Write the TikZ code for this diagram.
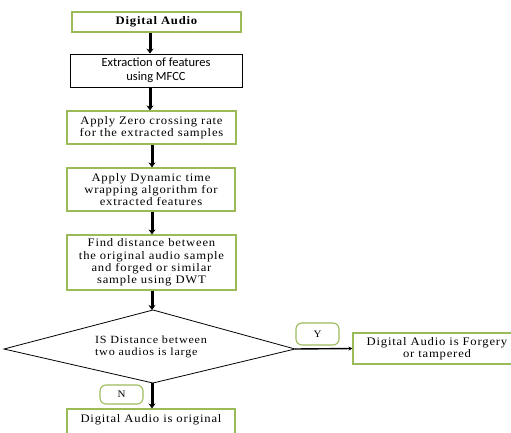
\documentclass[tikz,border=0pt]{standalone}
\usepackage{fontspec}
\setmainfont[LetterSpace=7,FakeStretch=1.1]{Liberation Serif}
\newfontfamily\calib{Carlito}
\usetikzlibrary{arrows.meta,calc}
\definecolor{ogreen}{HTML}{9BBB59}
\tikzset{
  gbox/.style={draw=ogreen,line width=1.1pt,fill=white,inner sep=0pt,align=center,font=\fontsize{11.5}{12.3}\selectfont},
  kbox/.style={draw=black,line width=0.8pt,fill=white,inner sep=0pt,align=center,font=\calib\fontsize{12.5}{14}\selectfont},
  lbl/.style={draw=ogreen,line width=1.1pt,rounded corners=6pt,inner sep=0pt,font=\fontsize{10}{12}\selectfont},
  varr/.style={line width=3pt,-{Stealth[length=5pt,width=7pt]}},
  harr/.style={line width=1.4pt,-{Stealth[length=4pt,width=4pt]}}
}
\begin{document}
\begin{tikzpicture}[x=1pt,y=-1pt]
\useasboundingbox (0,0) rectangle (511,433);
\coordinate (ax) at (152,0);
\node[gbox,minimum width=169pt,minimum height=20pt] (b1) at (156.5,22) {\bfseries Digital Audio};
\node[kbox,minimum width=172pt,minimum height=33pt] (b2) at (156,70.5) {Extraction of features\\using MFCC};
\node[gbox,minimum width=169pt,minimum height=33pt] (b3) at (151.5,127.5) {Apply Zero crossing rate\\for the extracted samples};
\node[gbox,minimum width=168pt,minimum height=43pt] (b4) at (151,189.5) {Apply Dynamic time\\wrapping algorithm for\\extracted features};
\node[gbox,minimum width=169pt,minimum height=55pt] (b5) at (151.5,262.5) {Find distance between\\the original audio sample\\and forged or similar\\sample using DWT};
\coordinate (dl) at (4,349);
\coordinate (dt) at (153,310);
\coordinate (dr) at (295,349);
\coordinate (db) at (153,383);
\draw[line width=0.8pt] (dl) -- (dt) -- (dr) -- (db) -- cycle;
\node[align=left,font=\fontsize{11}{11.5}\selectfont] (dtxt) at (151,347) {IS Distance between\\two audios is large};
\node[gbox,minimum width=168pt,minimum height=31pt] (b6) at (437,348.5) {Digital Audio is Forgery\\or tampered};
\node[gbox,minimum width=168pt,minimum height=34pt] (b7) at (151,426) {};
\node[font=\fontsize{11.5}{12}\selectfont] (b7t) at (151,420) {Digital Audio is original};
\node[lbl,minimum width=43pt,minimum height=22pt] (ly) at (317.5,334) {Y};
\node[lbl,minimum width=43pt,minimum height=19pt] (ln) at (121.5,394.5) {N};
\draw[varr] (b1.south -| 150,0) -- (b2.north -| 150,0);
\draw[varr] (b2.south -| 150,0) -- (b3.north -| 150,0);
\draw[varr] (b3.south -| ax) -- (b4.north -| ax);
\draw[varr] (b4.south -| ax) -- (b5.north -| ax);
\draw[varr] (b5.south -| ax) -- (dt -| ax);
\draw[varr] (db -| ax) -- (b7.north -| ax);
\draw[harr] (dr) -- (b6.west);
\end{tikzpicture}
\end{document}
